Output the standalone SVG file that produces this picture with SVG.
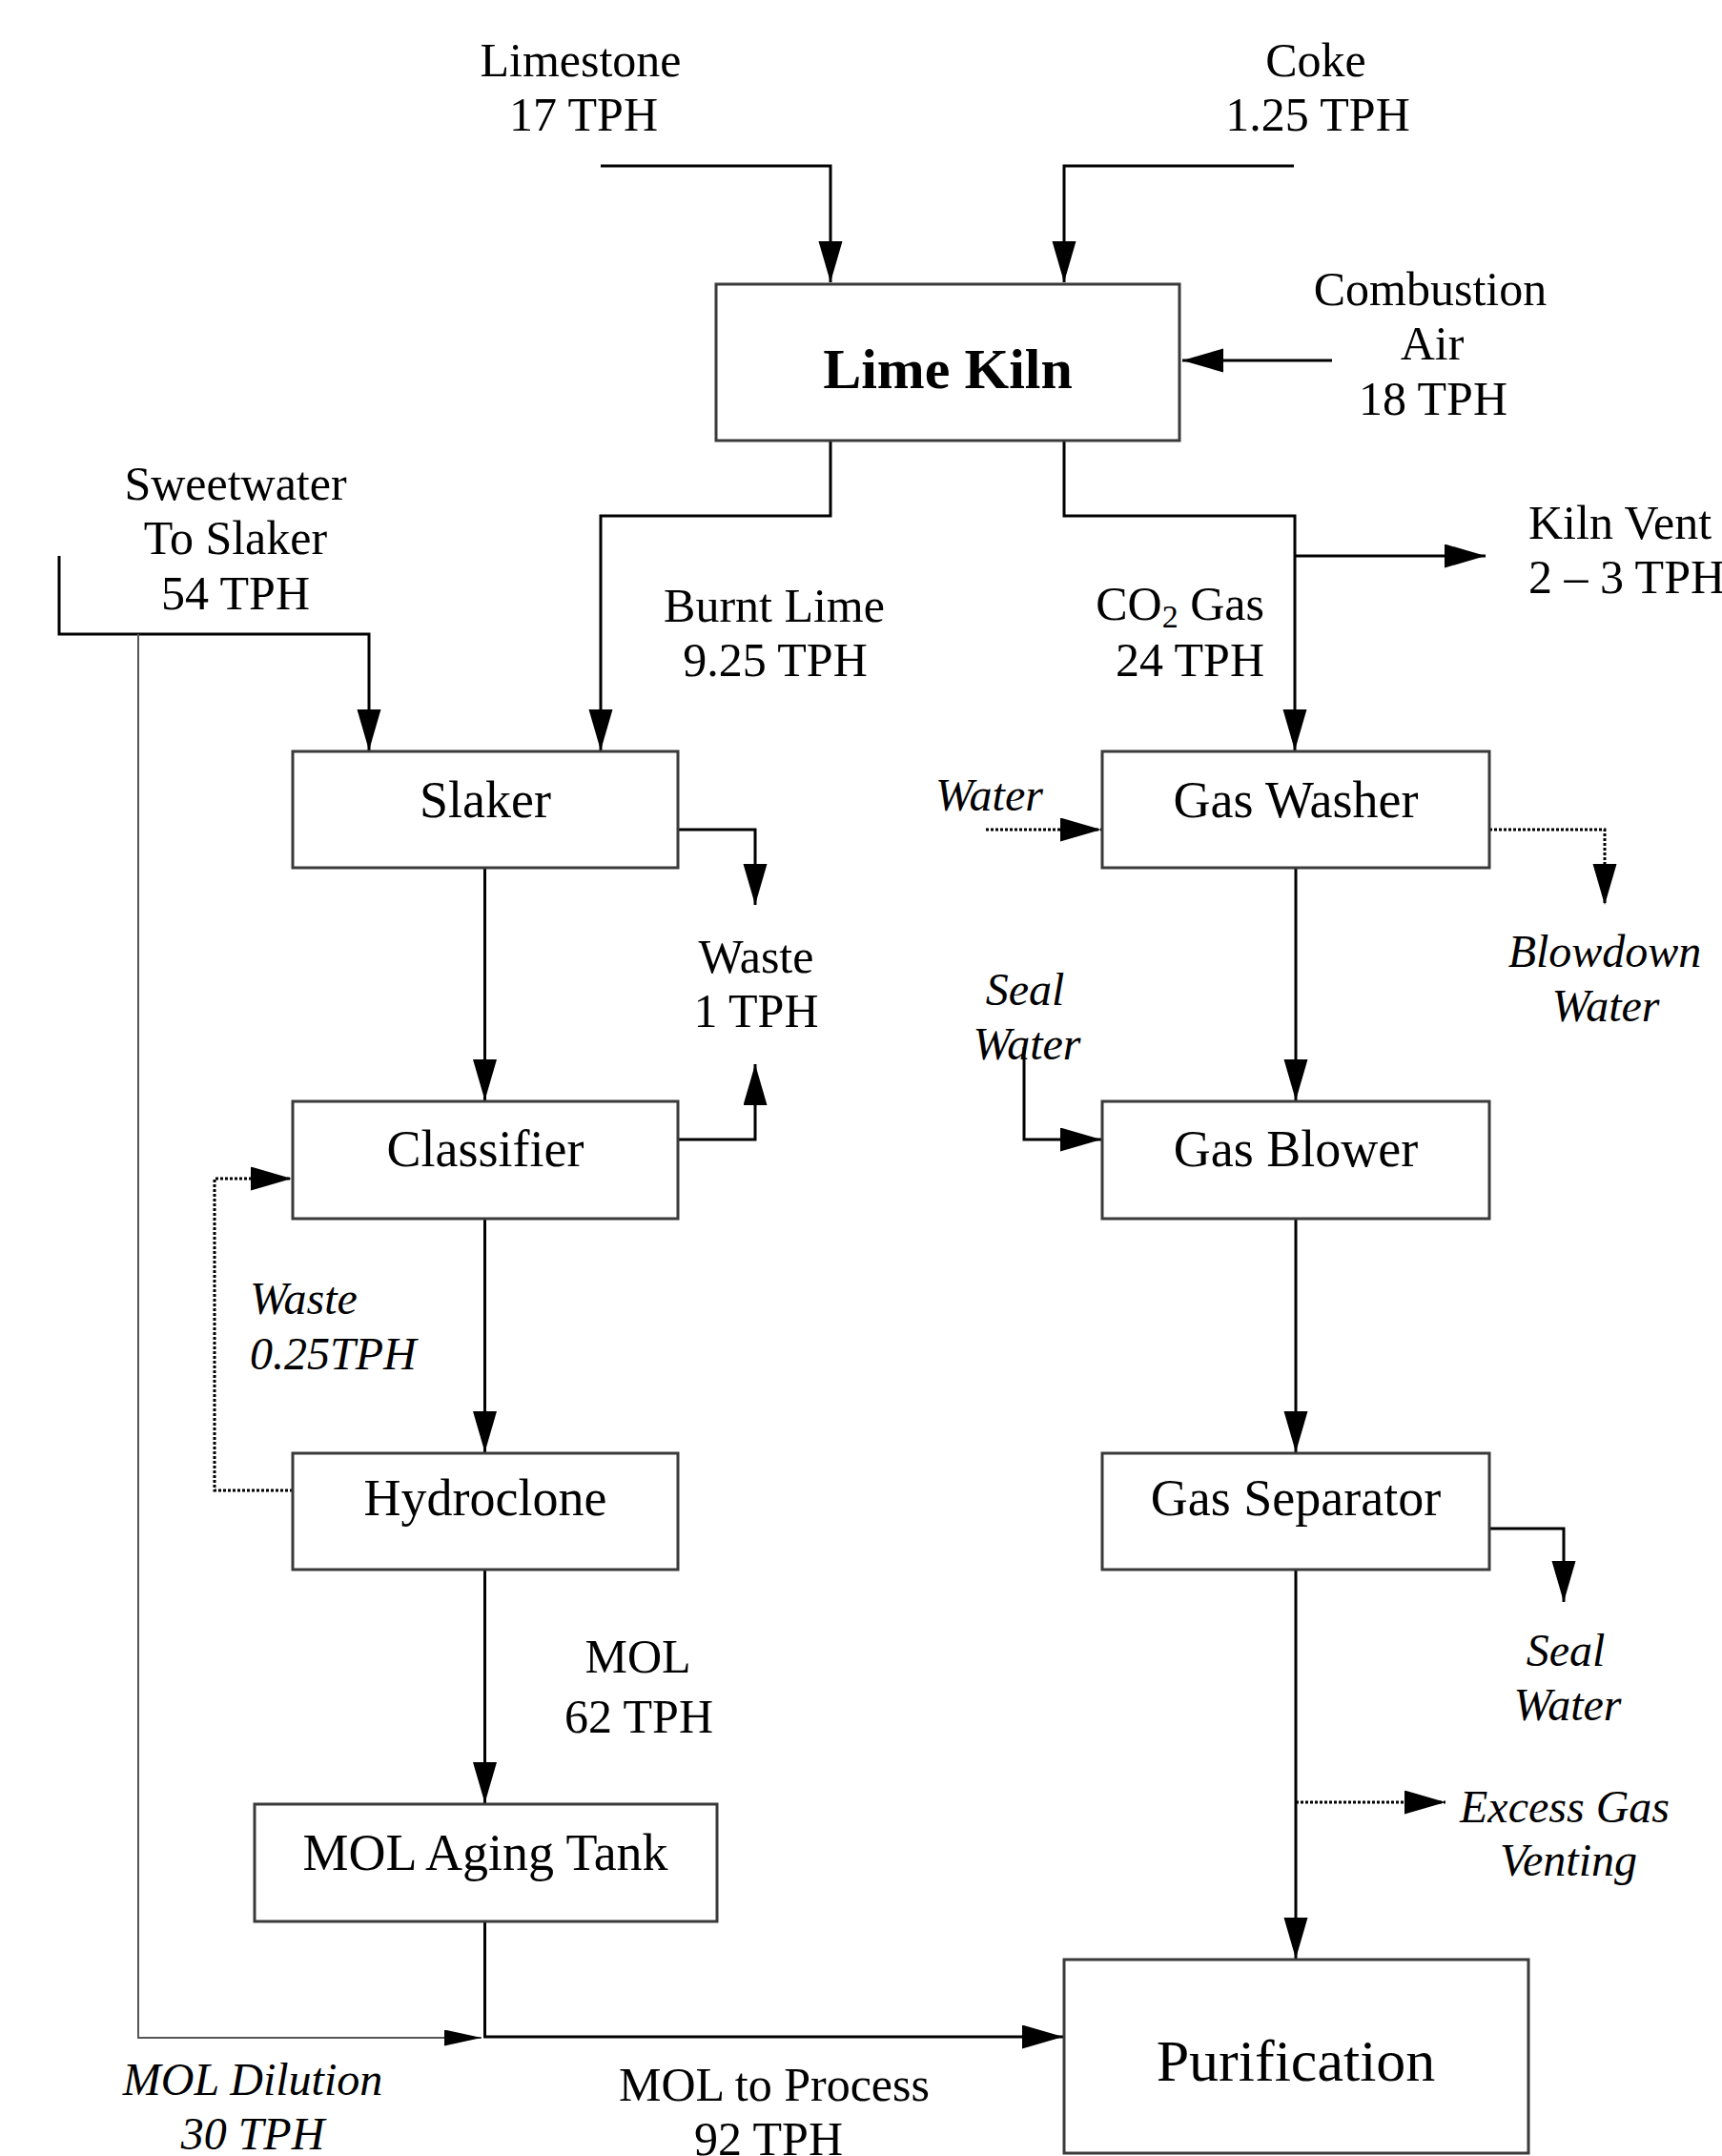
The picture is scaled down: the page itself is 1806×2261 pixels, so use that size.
<svg xmlns="http://www.w3.org/2000/svg" width="1806" height="2261" viewBox="0 0 1806 2261">
<style>
.t{font-family:"Liberation Serif","Times New Roman",serif;font-size:50px;fill:#000}
.n{font-family:"Liberation Serif","Times New Roman",serif;font-size:54px;fill:#000;text-anchor:middle}
.i{font-family:"Liberation Serif","Times New Roman",serif;font-size:48px;font-style:italic;fill:#000}
.m{text-anchor:middle}
.e{text-anchor:end}
.box{fill:#fff;stroke:#3a3a3a;stroke-width:3}
.c{fill:none;stroke:#000;stroke-width:3}
.d{fill:none;stroke:#000;stroke-width:3;stroke-dasharray:3 2}
.g{fill:none;stroke:#555;stroke-width:2}
</style>
<defs>
<marker id="ah" markerUnits="userSpaceOnUse" markerWidth="44" markerHeight="26" refX="43" refY="12.5" orient="auto">
<path d="M0,0 L43,12.5 L0,25 z" fill="#000"/>
</marker>
<marker id="ahs" markerUnits="userSpaceOnUse" markerWidth="40" markerHeight="18" refX="39" refY="8.5" orient="auto">
<path d="M0,0 L39,8.5 L0,17 z" fill="#000"/>
</marker>
</defs>
<rect width="1806" height="2261" fill="#fff"/>

<g id="connectors">
<path class="c" d="M630,174 H871 V296" marker-end="url(#ah)"/>
<path class="c" d="M1357,174 H1116 V296" marker-end="url(#ah)"/>
<path class="c" d="M1397,378 H1240" marker-end="url(#ah)"/>
<path class="c" d="M871,462 V541 H630 V787" marker-end="url(#ah)"/>
<path class="c" d="M1116,462 V541 H1358 V787" marker-end="url(#ah)"/>
<path class="c" d="M1358,583 H1558" marker-end="url(#ah)"/>
<path class="c" d="M62,583 V665 H387 V787" marker-end="url(#ah)"/>
<path class="g" d="M145,665 V2137 H505" marker-end="url(#ahs)"/>
<path class="c" d="M711,870 H792 V949" marker-end="url(#ah)"/>
<path class="c" d="M711,1195 H792 V1116" marker-end="url(#ah)"/>
<path class="c" d="M508.5,910 V1154" marker-end="url(#ah)"/>
<path class="c" d="M508.5,1278 V1523" marker-end="url(#ah)"/>
<path class="c" d="M508.5,1646 V1891" marker-end="url(#ah)"/>
<path class="d" d="M307,1563 H225 V1236 H306" marker-end="url(#ah)"/>
<path class="c" d="M508.5,2015 V2136 H1115" marker-end="url(#ah)"/>
<path class="d" d="M1034,870 H1155" marker-end="url(#ah)"/>
<path class="d" d="M1562,870 H1683 V949" marker-end="url(#ah)"/>
<path class="c" d="M1359,910 V1154" marker-end="url(#ah)"/>
<path class="c" d="M1074,1098 V1195 H1155" marker-end="url(#ah)"/>
<path class="c" d="M1359,1278 V1523" marker-end="url(#ah)"/>
<path class="c" d="M1562,1603 H1640 V1680" marker-end="url(#ah)"/>
<path class="c" d="M1359,1646 V2054" marker-end="url(#ah)"/>
<path class="d" d="M1359,1890 H1516" marker-end="url(#ah)"/>
</g>

<g id="lime-kiln">
<rect class="box" x="751" y="298" width="486" height="164"/>
<text x="994" y="407" font-family="Liberation Serif, Times New Roman, serif" font-size="60" font-weight="bold" text-anchor="middle">Lime Kiln</text>
</g>
<g id="slaker"><rect class="box" x="307" y="788" width="404" height="122"/><text class="n" x="509" y="857">Slaker</text></g>
<g id="classifier"><rect class="box" x="307" y="1155" width="404" height="123"/><text class="n" x="509" y="1223">Classifier</text></g>
<g id="hydroclone"><rect class="box" x="307" y="1524" width="404" height="122"/><text class="n" x="509" y="1589">Hydroclone</text></g>
<g id="mol-aging-tank"><rect class="box" x="267" y="1892" width="485" height="123"/><text class="n" x="509" y="1961">MOL Aging Tank</text></g>
<g id="gas-washer"><rect class="box" x="1156" y="788" width="406" height="122"/><text class="n" x="1359" y="857">Gas Washer</text></g>
<g id="gas-blower"><rect class="box" x="1156" y="1155" width="406" height="123"/><text class="n" x="1359" y="1223">Gas Blower</text></g>
<g id="gas-separator"><rect class="box" x="1156" y="1524" width="406" height="122"/><text class="n" x="1359" y="1589">Gas Separator</text></g>
<g id="purification"><rect class="box" x="1116" y="2055" width="487" height="203"/><text class="n" x="1359" y="2182" font-size="62" style="font-size:62px">Purification</text></g>

<g id="labels">
<text class="t m" x="609" y="80">Limestone</text>
<text class="t m" x="612" y="137">17 TPH</text>
<text class="t m" x="1380" y="80">Coke</text>
<text class="t m" x="1382" y="137">1.25 TPH</text>
<text class="t m" x="1500" y="320">Combustion</text>
<text class="t m" x="1502" y="377">Air</text>
<text class="t m" x="1503" y="435">18 TPH</text>
<text class="t m" x="247" y="524">Sweetwater</text>
<text class="t m" x="247" y="581">To Slaker</text>
<text class="t m" x="247" y="639">54 TPH</text>
<text class="t m" x="812" y="652">Burnt Lime</text>
<text class="t m" x="813" y="709">9.25 TPH</text>
<text class="t e" x="1326" y="650">CO<tspan font-size="34" dy="8">2</tspan><tspan dy="-8"> Gas</tspan></text>
<text class="t e" x="1326" y="709">24 TPH</text>
<text class="t" x="1603" y="565">Kiln Vent</text>
<text class="t" x="1603" y="622">2 – 3 TPH</text>
<text class="i" x="981" y="850">Water</text>
<text class="t m" x="793" y="1020">Waste</text>
<text class="t m" x="793" y="1077">1 TPH</text>
<text class="i m" x="1683" y="1014">Blowdown</text>
<text class="i m" x="1684" y="1071">Water</text>
<text class="i m" x="1075" y="1054">Seal</text>
<text class="i m" x="1077" y="1111">Water</text>
<text class="i" x="262" y="1378">Waste</text>
<text class="i" x="262" y="1436">0.25TPH</text>
<text class="i m" x="1642" y="1747">Seal</text>
<text class="i m" x="1644" y="1804">Water</text>
<text class="t m" x="669" y="1754">MOL</text>
<text class="t m" x="670" y="1817">62 TPH</text>
<text class="i m" x="1641" y="1911">Excess Gas</text>
<text class="i m" x="1645" y="1967">Venting</text>
<text class="i m" x="265" y="2197">MOL Dilution</text>
<text class="i m" x="265" y="2254">30 TPH</text>
<text class="t m" x="812" y="2203">MOL to Process</text>
<text class="t m" x="806" y="2260">92 TPH</text>
</g>
</svg>
